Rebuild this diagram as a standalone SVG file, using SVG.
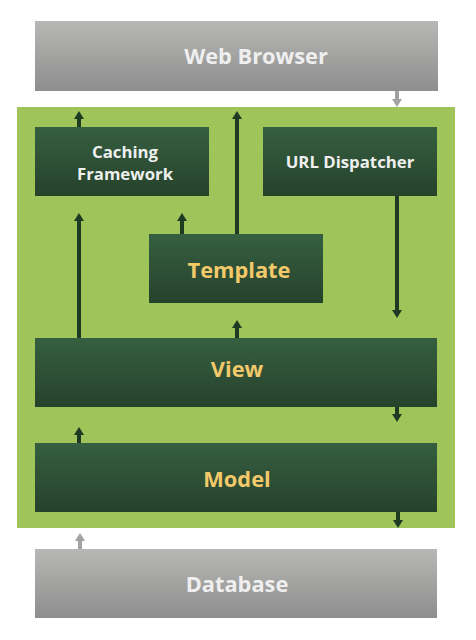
<svg xmlns="http://www.w3.org/2000/svg" width="476" height="640" viewBox="0 0 476 640">
<style>
.lbl{font-family:"Open Sans","Liberation Sans",sans-serif;font-weight:bold;text-anchor:middle;dominant-baseline:central}
.w{fill:#efefef}
.y{fill:#f3c96a}
.s{font-size:16.8px}
.b{font-size:21.8px}
.dk{stroke:#1d3a23;stroke-width:4;fill:none}
.gr{stroke:#a2a2a2;stroke-width:4;fill:none}
</style>
<defs>
<linearGradient id="gGray" x1="0" y1="0" x2="0" y2="1">
<stop offset="0" stop-color="#b7b7b5"/>
<stop offset="1" stop-color="#8e8e8e"/>
</linearGradient>
<linearGradient id="gGreen" x1="0" y1="0" x2="0" y2="1">
<stop offset="0" stop-color="#365f41"/>
<stop offset="1" stop-color="#26422b"/>
</linearGradient>
<marker id="aD" markerUnits="userSpaceOnUse" markerWidth="10" markerHeight="10" refX="3" refY="5" orient="auto">
<path d="M0,0 L8,5 L0,10 z" fill="#1d3a23"/>
</marker>
<marker id="aG" markerUnits="userSpaceOnUse" markerWidth="10" markerHeight="10" refX="3" refY="5" orient="auto">
<path d="M0,0 L8,5 L0,10 z" fill="#a2a2a2"/>
</marker>
</defs>
<rect width="476" height="640" fill="#ffffff"/>
<rect id="container" x="17" y="107" width="438" height="421" fill="#9fc45a"/>

<g id="web-browser">
<rect x="35" y="21" width="403" height="70" fill="url(#gGray)"/>
<text class="lbl w b" x="256" y="55">Web Browser</text>
</g>
<g id="caching-framework">
<rect x="35" y="127" width="174" height="69" fill="url(#gGreen)"/>
<text class="lbl w s" x="125" y="151">Caching</text>
<text class="lbl w s" x="125" y="173">Framework</text>
</g>
<g id="url-dispatcher">
<rect x="263" y="127" width="174" height="69" fill="url(#gGreen)"/>
<text class="lbl w s" x="350" y="161">URL Dispatcher</text>
</g>
<g id="template">
<rect x="149" y="234" width="174" height="69" fill="url(#gGreen)"/>
<text class="lbl y b" x="239" y="269">Template</text>
</g>
<g id="view">
<rect x="35" y="338" width="402" height="69" fill="url(#gGreen)"/>
<text class="lbl y b" x="237" y="368">View</text>
</g>
<g id="model">
<rect x="35" y="443" width="402" height="69" fill="url(#gGreen)"/>
<text class="lbl y b" x="237" y="478">Model</text>
</g>
<g id="database">
<rect x="35" y="549" width="402" height="69" fill="url(#gGray)"/>
<text class="lbl w b" x="237" y="583">Database</text>
</g>

<g id="connectors">
<path class="gr" d="M397,91 V102" marker-end="url(#aG)"/>
<path class="dk" d="M79,127 V116" marker-end="url(#aD)"/>
<path class="dk" d="M237,234 V116" marker-end="url(#aD)"/>
<path class="dk" d="M397,196 V313" marker-end="url(#aD)"/>
<path class="dk" d="M79,338 V218" marker-end="url(#aD)"/>
<path class="dk" d="M182,234 V218" marker-end="url(#aD)"/>
<path class="dk" d="M237,338 V325" marker-end="url(#aD)"/>
<path class="dk" d="M397,407 V417" marker-end="url(#aD)"/>
<path class="dk" d="M79,443 V432" marker-end="url(#aD)"/>
<path class="dk" d="M398,512 V523" marker-end="url(#aD)"/>
<path class="gr" d="M80,549 V538" marker-end="url(#aG)"/>
</g>
</svg>
